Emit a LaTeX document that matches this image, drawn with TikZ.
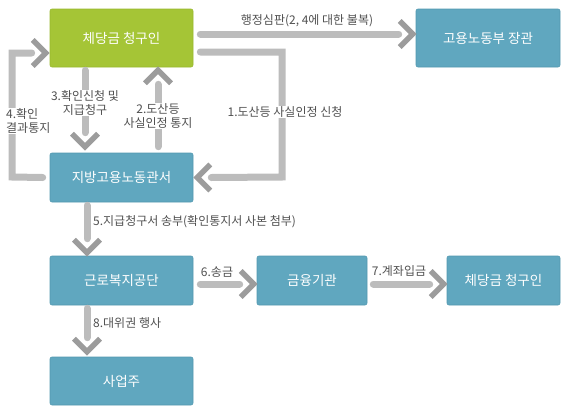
\documentclass[tikz,border=0pt]{standalone}
\usepackage{fontspec}
\setmainfont{Noto Sans CJK KR}
\usetikzlibrary{calc}
\definecolor{boxgreen}{HTML}{A5C536}
\definecolor{boxgreenD}{HTML}{98B82E}
\definecolor{boxblue}{HTML}{60A7BF}
\definecolor{boxblueD}{HTML}{5298B0}
\definecolor{shaftgray}{HTML}{BCBCBC}
\definecolor{chevgray}{HTML}{9C9C9C}
\definecolor{labelgray}{HTML}{505050}
\begin{document}
\begin{tikzpicture}[x=1pt,y=-1pt,
  box/.style={fill=boxblue, draw=boxblueD, line width=0.6pt, rounded corners=2pt,
    text=white, font=\fontsize{13.5}{15}\selectfont, inner sep=0pt},
  shaft/.style={draw=shaftgray, line width=7pt, line cap=round, line join=miter},
  chevline/.style={draw=chevgray, line width=5.5pt, line cap=butt, line join=miter},
  chev/.pic={\draw[chevline] (-13,-13)--(0,0)--(-13,13);},
  lbl/.style={text=labelgray, font=\fontsize{12}{14}\selectfont, inner sep=1pt},
  lblw/.style={lbl, fill=white, align=center}
]
\useasboundingbox (0,0) rectangle (568,413);

% boxes
\node[box, fill=boxgreen, draw=boxgreenD, minimum width=143pt, minimum height=58pt] (claim) at (121.5,38) {체당금 청구인};
\node[box, minimum width=144pt, minimum height=58pt] (minister) at (488,38) {고용노동부 장관};
\node[box, minimum width=143pt, minimum height=49pt] (office) at (121.5,177.5) {지방고용노동관서};
\node[box, minimum width=143pt, minimum height=49pt] (kcomwel) at (121.5,280.5) {근로복지공단};
\node[box, minimum width=110pt, minimum height=49pt] (bank) at (312,280.5) {금융기관};
\node[box, minimum width=113pt, minimum height=49pt] (claimtwo) at (503.5,280.5) {체당금 청구인};
\node[box, minimum width=143pt, minimum height=48pt] (employer) at (121.5,381) {사업주};

% connector end points
\coordinate (tS) at ($(claim.east)+(7,-4)$);
\coordinate (tT) at ($(minister.west)+(-3,-4)$);
\coordinate (oS) at ($(claim.east)+(7,14)$);
\coordinate (oT) at ($(office.east)+(4,0)$);
\coordinate (thS) at ($(claim.south)+(-36.5,3)$);
\coordinate (thT) at ($(office.north)+(-36.5,-6)$);
\coordinate (twS) at ($(office.north)+(36.5,-6)$);
\coordinate (twT) at ($(claim.south)+(36.5,3)$);
\coordinate (fS) at ($(office.west)+(-7,0)$);
\coordinate (fT) at ($(claim.west)+(-4,15)$);
\coordinate (fiS) at ($(office.south)+(-34.5,3)$);
\coordinate (fiT) at ($(kcomwel.north)+(-34.5,-3)$);
\coordinate (sxS) at ($(kcomwel.east)+(7,3.5)$);
\coordinate (sxT) at ($(bank.west)+(-3,3.5)$);
\coordinate (svS) at ($(bank.east)+(6,3.5)$);
\coordinate (svT) at ($(claimtwo.west)+(-3,3.5)$);
\coordinate (eS) at ($(kcomwel.south)+(-34.5,3)$);
\coordinate (eT) at ($(employer.north)+(-34.5,-5)$);

% shafts
\draw[shaft] (tS) -- ($(tT)+(-14,0)$);
\draw[shaft] (oS) -- (282,52) -- (282,177) -- ($(oT)+(14,0)$);
\draw[shaft] (thS) -- ($(thT)+(0,-14)$);
\draw[shaft] (twS) -- ($(twT)+(0,14)$);
\draw[shaft] (fS) -- (12,177) -- (12,53) -- ($(fT)+(-14,0)$);
\draw[shaft] (fiS) -- ($(fiT)+(0,-14)$);
\draw[shaft] (sxS) -- ($(sxT)+(-14,0)$);
\draw[shaft] (svS) -- ($(svT)+(-14,0)$);
\draw[shaft] (eS) -- ($(eT)+(0,-14)$);

% chevrons
\pic at (tT) {chev};
\pic[rotate=180] at (oT) {chev};
\pic[rotate=-90] at (thT) {chev};
\pic[rotate=90] at (twT) {chev};
\pic at (fT) {chev};
\pic[rotate=-90] at (fiT) {chev};
\pic at (sxT) {chev};
\pic at (svT) {chev};
\pic[rotate=-90] at (eT) {chev};

% labels
\node[lbl] (ltop) at (307,21) {행정심판(2, 4에 대한 불복)};
\node[lblw] (lone) at (285,112) {1.도산등 사실인정 신청};
\node[lblw] (lthree) at (85,103) {3.확인신청 및\\지급청구};
\node[lblw] (ltwo) at (158,116) {2.도산등\\사실인정 통지};
\node[lblw, align=left, anchor=west] (lfour) at (5,121) {4.확인\\결과통지};
\node[lbl, anchor=west] (lfive) at (92,222) {5.지급청구서 송부(확인통지서 사본 첨부)};
\node[lbl] (lsix) at (217,272) {6.송금};
\node[lbl] (lseven) at (399,271) {7.계좌입금};
\node[lbl, anchor=west] (leight) at (92,323) {8.대위권 행사};
\end{tikzpicture}
\end{document}
